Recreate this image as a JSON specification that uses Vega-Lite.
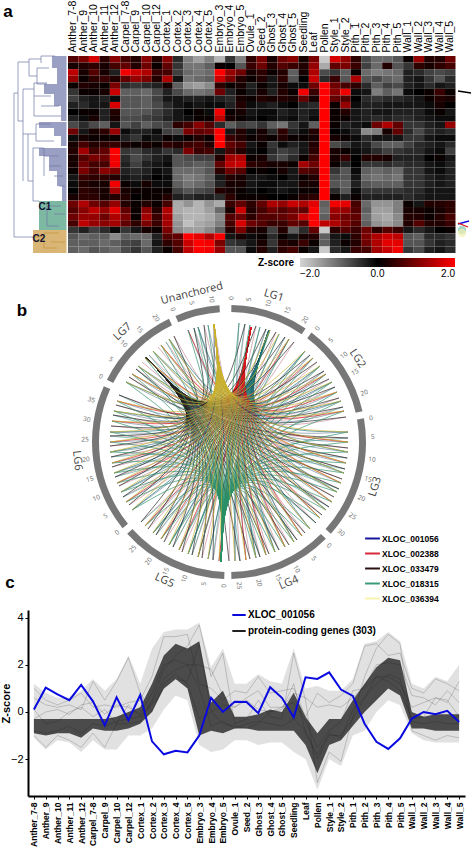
{"$schema":"https://vega.github.io/schema/vega-lite/v6.json","padding":0,"background":"white","config":{"view":{"stroke":null},"font":"Liberation Sans"},"resolve":{"scale":{"color":"independent","stroke":"independent"},"legend":{"color":"independent"}},"datasets":{"env":[{"c":"a","lo":-1.1,"hi":1.2,"cl":-0.9,"ch":-0.3},{"c":"b","lo":-1.6,"hi":0.8,"cl":-1,"ch":-0.3},{"c":"c","lo":-1.2,"hi":0.6,"cl":-0.9,"ch":-0.3},{"c":"d","lo":-1.3,"hi":0.6,"cl":-0.9,"ch":-0.3},{"c":"e","lo":-1.7,"hi":0.9,"cl":-1.1,"ch":-0.3},{"c":"f","lo":-1.2,"hi":1.4,"cl":-0.7,"ch":-0.3},{"c":"g","lo":-1.6,"hi":0.9,"cl":-0.8,"ch":-0.3},{"c":"h","lo":-1.6,"hi":1.4,"cl":-0.8,"ch":-0.2},{"c":"i","lo":-1,"hi":2.4,"cl":-0.7,"ch":0},{"c":"j","lo":-1,"hi":1.2,"cl":-0.5,"ch":0.2},{"c":"k","lo":-0.7,"hi":2.7,"cl":0,"ch":1.2},{"c":"l","lo":0.1,"hi":3.4,"cl":1,"ch":2.4},{"c":"m","lo":0.7,"hi":3.5,"cl":1.4,"ch":2.9},{"c":"n","lo":0.5,"hi":3.5,"cl":1,"ch":2.7},{"c":"o","lo":-1.4,"hi":3.8,"cl":-1,"ch":3},{"c":"p","lo":-1.7,"hi":1.9,"cl":-0.8,"ch":0.4},{"c":"q","lo":-1.6,"hi":2.7,"cl":-0.9,"ch":0.9},{"c":"s","lo":-1.2,"hi":1.2,"cl":-0.7,"ch":-0.2},{"c":"t","lo":-1.2,"hi":1.2,"cl":-0.7,"ch":-0.2},{"c":"u","lo":-1.4,"hi":1.6,"cl":-0.8,"ch":-0.1},{"c":"v","lo":-1.3,"hi":1.3,"cl":-0.8,"ch":0.1},{"c":"w","lo":-1.3,"hi":1.2,"cl":-0.8,"ch":0},{"c":"x","lo":-1.7,"hi":2.7,"cl":-0.8,"ch":0.8},{"c":"y","lo":-2,"hi":1,"cl":-1.4,"ch":-0.2},{"c":"z","lo":-3.3,"hi":1.1,"cl":-2.6,"ch":-0.9},{"c":"A","lo":-2,"hi":0.9,"cl":-1.4,"ch":-0.3},{"c":"B","lo":-2.3,"hi":0.9,"cl":-1.2,"ch":-0.3},{"c":"C","lo":-1,"hi":1.4,"cl":-0.6,"ch":0.5},{"c":"D","lo":-0.8,"hi":2.9,"cl":0,"ch":1.2},{"c":"E","lo":0,"hi":3,"cl":0.5,"ch":1.9},{"c":"F","lo":0.5,"hi":3.4,"cl":1,"ch":2.3},{"c":"G","lo":0.3,"hi":3,"cl":0.7,"ch":2.2},{"c":"H","lo":-0.9,"hi":1.2,"cl":-0.7,"ch":0},{"c":"I","lo":-1.2,"hi":1,"cl":-0.7,"ch":-0.2},{"c":"J","lo":-1.3,"hi":1.5,"cl":-0.8,"ch":-0.1},{"c":"K","lo":-1.3,"hi":1.3,"cl":-0.8,"ch":-0.1},{"c":"L","lo":-1.3,"hi":2,"cl":-0.8,"ch":-0.1}]},"concat":[{"resolve":{"scale":{"color":"independent"},"legend":{"color":"independent"}},"hconcat":[{"width":38.5,"height":197,"encoding":{"x":{"field":"x","type":"quantitative","scale":{"domain":[29,67.5]},"axis":null},"y":{"field":"y","type":"quantitative","scale":{"domain":[197,0]},"axis":null}},"layer":[{"data":{"values":[{"k":"main","x":53,"x2":67.5,"y":0,"y2":12},{"k":"main","x":58,"x2":67.5,"y":12,"y2":28},{"k":"main","x":45,"x2":67.5,"y":28,"y2":38},{"k":"main","x":55,"x2":67.5,"y":38,"y2":50},{"k":"main","x":62,"x2":67.5,"y":50,"y2":65},{"k":"main","x":40,"x2":67.5,"y":66,"y2":72},{"k":"main","x":55,"x2":67.5,"y":72,"y2":80},{"k":"main","x":62,"x2":67.5,"y":80,"y2":90},{"k":"main","x":40,"x2":67.5,"y":92,"y2":100},{"k":"main","x":50,"x2":67.5,"y":100,"y2":115},{"k":"main","x":58,"x2":67.5,"y":115,"y2":130},{"k":"main","x":63,"x2":67.5,"y":130,"y2":145},{"k":"C1","x":40,"x2":67.5,"y":145,"y2":174},{"k":"C2","x":34,"x2":67.5,"y":174,"y2":197}]},"mark":"rect","encoding":{"x2":{"field":"x2"},"y2":{"field":"y2"},"color":{"field":"k","type":"nominal","legend":null,"scale":{"domain":["main","C1","C2"],"range":["#9a9fc4","#7db9a2","#d9b676"]}}}},{"data":{"values":[{"x":15,"y":37,"x2":15,"y2":181},{"x":15,"y":181,"x2":34,"y2":181},{"x":15,"y":37,"x2":19,"y2":37},{"x":19,"y":6,"x2":19,"y2":65},{"x":19,"y":6,"x2":30,"y2":6},{"x":19,"y":65,"x2":24,"y2":65},{"x":30,"y":3,"x2":30,"y2":20},{"x":30,"y":3,"x2":42,"y2":3},{"x":30,"y":20,"x2":38,"y2":20},{"x":38,"y":12,"x2":38,"y2":28},{"x":38,"y":12,"x2":50,"y2":12},{"x":38,"y":28,"x2":48,"y2":28},{"x":42,"y":0,"x2":42,"y2":7},{"x":42,"y":0,"x2":56,"y2":0},{"x":24,"y":33,"x2":24,"y2":125},{"x":24,"y":33,"x2":35,"y2":33},{"x":35,"y":27,"x2":35,"y2":60},{"x":35,"y":27,"x2":48,"y2":27},{"x":35,"y":40,"x2":52,"y2":40},{"x":42,"y":50,"x2":60,"y2":50},{"x":35,"y":60,"x2":62,"y2":60},{"x":24,"y":78,"x2":29,"y2":78},{"x":29,"y":78,"x2":29,"y2":125},{"x":29,"y":78,"x2":37,"y2":78},{"x":37,"y":68,"x2":37,"y2":85},{"x":37,"y":68,"x2":52,"y2":68},{"x":37,"y":85,"x2":55,"y2":85},{"x":29,"y":125,"x2":34,"y2":125},{"x":34,"y":92,"x2":34,"y2":145},{"x":34,"y":92,"x2":45,"y2":92},{"x":45,"y":92,"x2":45,"y2":120},{"x":34,"y":145,"x2":40,"y2":145},{"x":45,"y":100,"x2":60,"y2":100},{"x":50,"y":110,"x2":62,"y2":110},{"x":55,"y":120,"x2":64,"y2":120},{"x":60,"y":130,"x2":66,"y2":130},{"x":48,"y":150,"x2":48,"y2":170},{"x":48,"y":150,"x2":62,"y2":150},{"x":48,"y":170,"x2":60,"y2":170},{"x":55,"y":158,"x2":66,"y2":158}]},"mark":{"type":"rule","color":"#6f75a3","strokeWidth":0.7},"encoding":{"x2":{"field":"x2"},"y2":{"field":"y2"}}},{"data":{"values":[{"x":34,"y":181,"x2":45,"y2":181},{"x":45,"y":177,"x2":45,"y2":192},{"x":45,"y":177,"x2":60,"y2":177},{"x":45,"y":192,"x2":58,"y2":192},{"x":52,"y":186,"x2":66,"y2":186}]},"mark":{"type":"rule","color":"#c4923c","strokeWidth":0.7},"encoding":{"x2":{"field":"x2"},"y2":{"field":"y2"}}},{"data":{"values":[{"t":"C1","x":46,"y":151},{"t":"C2","x":40,"y":183}]},"mark":{"type":"text","fontWeight":"bold","fontSize":10,"color":"#111133"},"encoding":{"text":{"field":"t"}}},{"data":{"values":[{"t":"a","x":9,"y":-44}]},"mark":{"type":"text","fontWeight":"bold","fontSize":17,"color":"black"},"encoding":{"text":{"field":"t"}}}]},{"width":387.5,"height":197,"data":{"values":[{"r":0,"a":0.7,"b":1,"c":1.7,"d":0.4,"e":1.1,"f":0.6,"g":0.3,"h":1.1,"i":0.3,"j":1.1,"k":-0.4,"l":-1.2,"m":-1.5,"n":-1.2,"o":-1.7,"p":-0.5,"q":-1.2,"s":0.4,"t":1,"u":0.2,"v":0.9,"w":1.1,"x":0.2,"y":1,"z":-1.9,"A":1.7,"B":1.2,"C":0.4,"D":-0.7,"E":-1,"F":-1,"G":-0.8,"H":0.1,"I":1.2,"J":0.3,"K":0.3,"L":0.9},{"r":1,"a":0.2,"b":0.3,"c":0.4,"d":0.2,"e":0.6,"f":0.8,"g":0.3,"h":0.9,"i":0.1,"j":0.8,"k":-0.5,"l":-1.1,"m":-1.1,"n":-0.9,"o":0.1,"p":0,"q":-0.8,"s":0.5,"t":0.9,"u":0.3,"v":0.7,"w":0.5,"x":0.3,"y":1.2,"z":-1.6,"A":0.8,"B":1,"C":0.5,"D":-0.6,"E":-1,"F":0.3,"G":-0.8,"H":-0.5,"I":0.4,"J":0.2,"K":0.4,"L":0.6},{"r":2,"a":1.5,"b":0.2,"c":0.7,"d":0.2,"e":-0.3,"f":1.9,"g":1.6,"h":1.4,"i":0.5,"j":0.6,"k":-0.6,"l":-1,"m":-1.1,"n":-1,"o":2,"p":1.2,"q":0.9,"s":0.2,"t":0.4,"u":0.1,"v":0.3,"w":-0.9,"x":0.2,"y":1.4,"z":-0.7,"A":-0.5,"B":-0.9,"C":0.1,"D":-1,"E":-1.2,"F":-1.1,"G":-1,"H":-0.3,"I":-0.4,"J":-0.6,"K":-0.7,"L":-0.6},{"r":3,"a":1.2,"b":0.1,"c":0.4,"d":0.5,"e":0.3,"f":0.8,"g":1.2,"h":1,"i":0.3,"j":1.4,"k":-0.2,"l":-1.1,"m":-1,"n":-0.9,"o":1.6,"p":1,"q":0.3,"s":0.1,"t":0.3,"u":-0.2,"v":0.4,"w":-0.8,"x":0,"y":1.6,"z":-0.4,"A":0.5,"B":-0.8,"C":1.4,"D":-0.8,"E":-0.7,"F":-0.9,"G":-1,"H":-0.3,"I":-0.2,"J":-0.5,"K":-0.8,"L":-0.4},{"r":4,"a":0.1,"b":0.3,"c":0.2,"d":0.1,"e":1,"f":-0.4,"g":-0.5,"h":-0.4,"i":-0.3,"j":0.2,"k":-0.9,"l":-1.4,"m":-1.5,"n":-1.3,"o":0.4,"p":0.1,"q":0.2,"s":-0.3,"t":0.1,"u":-0.2,"v":0.2,"w":-0.1,"x":-0.1,"y":0.9,"z":2,"A":0.9,"B":0.6,"C":0.4,"D":-0.4,"E":-0.9,"F":-0.6,"G":-0.7,"H":-0.3,"I":-0.2,"J":-0.4,"K":-0.2,"L":-0.3},{"r":5,"a":-0.5,"b":0.1,"c":0.1,"d":0.2,"e":1.6,"f":-0.9,"g":-0.9,"h":-1,"i":-0.7,"j":-0.3,"k":-0.7,"l":-1,"m":-1.1,"n":-1,"o":0.9,"p":-0.3,"q":0.1,"s":-0.2,"t":0.2,"u":-0.3,"v":0.3,"w":0.1,"x":1.9,"y":0.5,"z":2,"A":1.1,"B":1.9,"C":-0.1,"D":-0.2,"E":-1.2,"F":-0.9,"G":-1.1,"H":-0.1,"I":0,"J":0.1,"K":0.5,"L":0.1},{"r":6,"a":-0.6,"b":-0.3,"c":-0.2,"d":-0.3,"e":-0.1,"f":-0.8,"g":-0.8,"h":-0.9,"i":-0.6,"j":-0.2,"k":-0.2,"l":-0.3,"m":-0.3,"n":-0.2,"o":-0.3,"p":-0.4,"q":0.2,"s":0.1,"t":0.3,"u":0.2,"v":0.3,"w":0.2,"x":0.8,"y":0.2,"z":2,"A":0.8,"B":0.7,"C":0,"D":-0.4,"E":-0.5,"F":-0.4,"G":-0.4,"H":-0.3,"I":-0.2,"J":0.1,"K":0.3,"L":0.2},{"r":7,"a":-0.3,"b":-0.4,"c":-0.2,"d":-0.2,"e":1.7,"f":-0.8,"g":-0.8,"h":-0.9,"i":-0.7,"j":-0.4,"k":-0.2,"l":-0.1,"m":-0.2,"n":-0.1,"o":-0.1,"p":-0.3,"q":0.3,"s":-0.1,"t":-0.2,"u":-0.3,"v":-0.1,"w":0,"x":-0.3,"y":-0.4,"z":2,"A":0.1,"B":1.2,"C":-0.1,"D":-0.3,"E":-0.3,"F":-0.2,"G":-0.2,"H":-0.2,"I":-0.2,"J":-0.1,"K":0.2,"L":0},{"r":8,"a":0,"b":0.1,"c":0.1,"d":-0.3,"e":0.3,"f":-0.8,"g":-0.8,"h":-0.8,"i":-0.6,"j":-0.4,"k":-0.2,"l":0,"m":0.1,"n":-0.1,"o":1.9,"p":0.1,"q":0.2,"s":-0.2,"t":-0.1,"u":-0.1,"v":-0.3,"w":-0.2,"x":-0.3,"y":-0.2,"z":2,"A":0.1,"B":0.3,"C":-0.2,"D":-0.3,"E":-0.2,"F":-0.2,"G":-0.3,"H":-0.3,"I":-0.3,"J":-0.1,"K":0.1,"L":-0.2},{"r":9,"a":-0.3,"b":-0.1,"c":0.2,"d":-0.3,"e":0.2,"f":-0.7,"g":-0.7,"h":-0.6,"i":-0.5,"j":-0.3,"k":-0.2,"l":-0.1,"m":0.1,"n":0.1,"o":1.5,"p":0.2,"q":0.1,"s":-0.1,"t":0,"u":-0.1,"v":-0.2,"w":-0.1,"x":-0.3,"y":-0.1,"z":2,"A":0.1,"B":0.1,"C":-0.2,"D":-0.3,"E":-0.4,"F":-0.3,"G":-0.4,"H":-0.4,"I":-0.3,"J":-0.2,"K":-0.1,"L":-0.1},{"r":10,"a":-0.7,"b":-0.4,"c":-0.7,"d":-0.9,"e":-0.2,"f":-0.8,"g":-0.6,"h":-0.9,"i":-0.7,"j":-0.6,"k":0.4,"l":0.6,"m":1.1,"n":0.7,"o":-0.4,"p":-0.9,"q":-0.6,"s":-0.7,"t":-0.5,"u":-0.9,"v":-1.1,"w":-0.5,"x":-0.2,"y":-0.9,"z":2,"A":0.1,"B":-0.3,"C":-0.2,"D":-0.1,"E":0.9,"F":1.4,"G":0.8,"H":-0.5,"I":-0.5,"J":-0.3,"K":-0.2,"L":1.2},{"r":11,"a":0.9,"b":-0.2,"c":0.2,"d":0.4,"e":1.2,"f":-0.1,"g":-0.3,"h":-0.3,"i":-0.1,"j":-0.6,"k":-0.7,"l":1,"m":0.8,"n":0.9,"o":2,"p":-0.2,"q":0.3,"s":-0.1,"t":0.2,"u":-0.4,"v":0.4,"w":-0.3,"x":-0.1,"y":0.3,"z":2,"A":0,"B":-0.1,"C":-0.3,"D":-1.3,"E":-1.2,"F":0.2,"G":0.8,"H":-0.4,"I":-0.7,"J":-0.4,"K":-0.3,"L":-0.4},{"r":12,"a":-0.1,"b":0.2,"c":0.1,"d":0.1,"e":0.1,"f":-0.3,"g":-0.5,"h":-0.1,"i":-0.2,"j":0.1,"k":-0.1,"l":0.1,"m":0.3,"n":0.1,"o":2,"p":0.5,"q":0.3,"s":0.1,"t":0.2,"u":0.1,"v":0.3,"w":0.1,"x":0.1,"y":0.2,"z":2,"A":0.2,"B":0.1,"C":-0.1,"D":-0.4,"E":-0.2,"F":-0.2,"G":-0.2,"H":-0.5,"I":-0.5,"J":-0.2,"K":-0.1,"L":-0.1},{"r":13,"a":0.2,"b":0.6,"c":0.3,"d":0.4,"e":0.5,"f":0.2,"g":0.1,"h":0.2,"i":0.1,"j":0.4,"k":0.3,"l":0.5,"m":0.6,"n":0.3,"o":2,"p":0.8,"q":0.6,"s":-0.2,"t":0.1,"u":-0.5,"v":-0.1,"w":-0.3,"x":-0.2,"y":0.3,"z":2,"A":-0.7,"B":-0.5,"C":-0.2,"D":-0.3,"E":-0.7,"F":-0.9,"G":-0.9,"H":-0.6,"I":-0.4,"J":-0.3,"K":-0.2,"L":-0.4},{"r":14,"a":0.3,"b":1.3,"c":0.6,"d":0.8,"e":2,"f":-0.5,"g":-0.6,"h":-0.4,"i":-0.3,"j":-0.5,"k":-0.4,"l":1,"m":0.5,"n":0.6,"o":-0.2,"p":0.6,"q":0.3,"s":-0.1,"t":0,"u":-0.4,"v":-0.6,"w":-0.5,"x":-0.2,"y":0.4,"z":2,"A":0.2,"B":0.1,"C":-0.1,"D":-0.2,"E":-0.4,"F":-0.6,"G":-0.5,"H":-0.4,"I":-0.4,"J":-0.2,"K":-0.1,"L":-0.6},{"r":15,"a":0.2,"b":0.7,"c":1,"d":0.9,"e":1.9,"f":-0.4,"g":-0.7,"h":-0.5,"i":-0.3,"j":-0.2,"k":-0.8,"l":-0.7,"m":-0.6,"n":-0.6,"o":0.3,"p":1.3,"q":1.4,"s":0.1,"t":0.2,"u":-0.5,"v":-0.7,"w":-0.4,"x":0.1,"y":0.6,"z":2,"A":0.2,"B":0.5,"C":0,"D":0.3,"E":0.3,"F":0.2,"G":-0.3,"H":-0.3,"I":-0.3,"J":0,"K":0.1,"L":-0.2},{"r":16,"a":0.2,"b":0.9,"c":0.6,"d":0.6,"e":1.9,"f":-0.3,"g":-0.6,"h":-0.3,"i":-0.2,"j":-0.1,"k":-0.8,"l":-0.8,"m":-0.9,"n":-0.8,"o":0.8,"p":1.5,"q":1.6,"s":0.4,"t":0.3,"u":0.2,"v":0.2,"w":0.1,"x":1.3,"y":0.9,"z":2,"A":0.1,"B":-0.3,"C":0,"D":-0.5,"E":-0.5,"F":-0.4,"G":-0.5,"H":-0.4,"I":-0.4,"J":-0.2,"K":-0.1,"L":-0.3},{"r":17,"a":0.1,"b":1,"c":0.6,"d":1.1,"e":1,"f":-0.3,"g":-0.4,"h":-0.3,"i":-0.1,"j":-0.2,"k":-1,"l":-1,"m":-1,"n":-0.8,"o":0.4,"p":0.9,"q":0.7,"s":0,"t":0.1,"u":0,"v":0.2,"w":-0.2,"x":0.7,"y":0.6,"z":2,"A":-0.5,"B":-0.8,"C":-0.1,"D":-0.9,"E":-1,"F":-0.9,"G":-1,"H":-0.5,"I":-0.5,"J":-0.2,"K":-0.1,"L":-0.3},{"r":18,"a":-0.2,"b":0.5,"c":0.4,"d":0.4,"e":0.3,"f":-0.2,"g":-0.3,"h":-0.2,"i":0,"j":-0.1,"k":-1,"l":-1.2,"m":-1.1,"n":-0.9,"o":-0.2,"p":0.3,"q":0.2,"s":-0.2,"t":-0.2,"u":-0.1,"v":0,"w":-0.2,"x":0.1,"y":0.3,"z":2,"A":-0.7,"B":-0.8,"C":-0.2,"D":-1,"E":-1.1,"F":-1,"G":-1.1,"H":-0.5,"I":-0.5,"J":-0.3,"K":-0.2,"L":-0.3},{"r":19,"a":-0.1,"b":0.3,"c":0.2,"d":0.2,"e":1.9,"f":0.1,"g":-0.1,"h":0.2,"i":-0.1,"j":-0.1,"k":-0.9,"l":-1.1,"m":-1,"n":-0.8,"o":-0.3,"p":0.2,"q":0.2,"s":-0.2,"t":-0.1,"u":-0.1,"v":-0.2,"w":-0.2,"x":0.2,"y":0.2,"z":2,"A":-0.8,"B":-0.9,"C":-0.3,"D":-0.8,"E":-0.9,"F":-0.9,"G":-0.9,"H":-0.5,"I":-0.5,"J":-0.3,"K":-0.2,"L":-0.3},{"r":20,"a":0,"b":0.4,"c":0.3,"d":0.2,"e":1.3,"f":0.2,"g":0.1,"h":0.1,"i":0.1,"j":0.1,"k":-0.6,"l":-0.8,"m":-0.7,"n":-0.6,"o":0.3,"p":0.2,"q":0.1,"s":-0.1,"t":0,"u":-0.1,"v":-0.2,"w":-0.1,"x":0.1,"y":0.1,"z":2,"A":-0.4,"B":-0.8,"C":-0.1,"D":-0.5,"E":-0.5,"F":-0.5,"G":-0.5,"H":-0.4,"I":-0.4,"J":-0.2,"K":-0.2,"L":-0.2},{"r":21,"a":0.2,"b":0.4,"c":0.4,"d":0.2,"e":0.3,"f":0.3,"g":0,"h":0.1,"i":0.1,"j":0.3,"k":-0.3,"l":-0.4,"m":-0.3,"n":-0.3,"o":-0.4,"p":0.4,"q":0.1,"s":0.1,"t":0.1,"u":0,"v":0,"w":0.1,"x":0.3,"y":0.4,"z":2,"A":0.1,"B":-0.3,"C":0.1,"D":-0.3,"E":-0.3,"F":-0.3,"G":-0.3,"H":-0.4,"I":-0.3,"J":-0.2,"K":-0.2,"L":-0.2},{"r":22,"a":0.9,"b":1.4,"c":0.9,"d":0.7,"e":1.2,"f":0.3,"g":0.1,"h":0.3,"i":0.1,"j":0.6,"k":-1.6,"l":-1.4,"m":-1.7,"n":-1.4,"o":-1.6,"p":0.5,"q":0.8,"s":0.4,"t":0.8,"u":1.4,"v":1.2,"w":1.6,"x":1.4,"y":1.8,"z":-0.9,"A":1.9,"B":1.8,"C":0.6,"D":-1,"E":-1.4,"F":-1.4,"G":-1.2,"H":0.1,"I":-0.2,"J":0.3,"K":0.3,"L":0.4},{"r":23,"a":0.7,"b":1.1,"c":1.5,"d":1.2,"e":1.8,"f":0.8,"g":0.1,"h":1.1,"i":0.3,"j":1.4,"k":-1.6,"l":-1.7,"m":-1.7,"n":-1.5,"o":-1,"p":0.2,"q":1.6,"s":0.3,"t":0.6,"u":0.9,"v":0.7,"w":0.9,"x":0.8,"y":2,"z":-1,"A":1.3,"B":1.2,"C":0.7,"D":-0.9,"E":-1.5,"F":-1.5,"G":-1.2,"H":0.2,"I":0.2,"J":0.1,"K":0.2,"L":0.4},{"r":24,"a":0.9,"b":1.2,"c":1.2,"d":0.9,"e":1.4,"f":1,"g":0.1,"h":1.3,"i":0.5,"j":1.3,"k":-1.5,"l":-1.7,"m":-1.7,"n":-1.6,"o":-1.3,"p":0.7,"q":0.9,"s":0.4,"t":0.7,"u":0.7,"v":0.8,"w":1,"x":1.6,"y":2,"z":-0.9,"A":1.1,"B":0.9,"C":0.8,"D":-1,"E":-1.5,"F":-1.6,"G":-1.3,"H":0.3,"I":0.3,"J":0.1,"K":0.3,"L":0.6},{"r":25,"a":0.6,"b":1.5,"c":1.2,"d":1.1,"e":1.3,"f":0.8,"g":0.4,"h":1,"i":0.5,"j":1.3,"k":-1.4,"l":-1.8,"m":-1.6,"n":-1.5,"o":-1.2,"p":0.6,"q":1.7,"s":0.9,"t":0.7,"u":0.5,"v":0.5,"w":0.8,"x":0.7,"y":2,"z":1.5,"A":1.4,"B":1,"C":0.7,"D":-0.9,"E":-1.4,"F":-1.5,"G":-1.3,"H":0.3,"I":0.7,"J":0.3,"K":0.3,"L":0.5},{"r":26,"a":-0.5,"b":-0.3,"c":-0.6,"d":-0.4,"e":-0.1,"f":-0.5,"g":-0.2,"h":0.2,"i":0.1,"j":1,"k":-1.3,"l":-1.5,"m":-1.5,"n":-1.3,"o":-0.9,"p":0.3,"q":1,"s":0.3,"t":0.2,"u":-0.6,"v":0.3,"w":-0.9,"x":-0.4,"y":0.8,"z":-1.9,"A":0.4,"B":0.7,"C":0.5,"D":0.9,"E":0.4,"F":0.7,"G":0.5,"H":-0.2,"I":-0.4,"J":-0.2,"K":0,"L":0.1},{"r":27,"a":-0.8,"b":-1,"c":-0.9,"d":-0.9,"e":-1.3,"f":-0.9,"g":-1,"h":-1,"i":-0.3,"j":0.7,"k":0.8,"l":2,"m":1.8,"n":1.4,"o":1.9,"p":-0.2,"q":0.2,"s":-0.1,"t":0.1,"u":-0.4,"v":0.1,"w":-0.2,"x":0.2,"y":0.3,"z":-0.9,"A":-0.2,"B":-0.1,"C":0.4,"D":1,"E":1.4,"F":1.6,"G":1.5,"H":-0.8,"I":-0.9,"J":-0.4,"K":-0.4,"L":-0.5},{"r":28,"a":-0.9,"b":-0.9,"c":-0.9,"d":-1,"e":-0.9,"f":-0.7,"g":-0.6,"h":-1,"i":-0.2,"j":0.4,"k":0.7,"l":1.6,"m":2,"n":1.9,"o":1,"p":-0.5,"q":-0.4,"s":-0.2,"t":0.2,"u":-0.5,"v":0.3,"w":0.2,"x":0.5,"y":0.1,"z":-0.9,"A":-0.3,"B":0.1,"C":0.3,"D":0.9,"E":1.4,"F":1.8,"G":1.8,"H":-0.8,"I":-0.8,"J":-0.5,"K":-0.3,"L":-0.4},{"r":29,"a":-0.9,"b":-1,"c":-0.8,"d":-0.9,"e":-1,"f":-0.7,"g":-0.5,"h":-0.8,"i":-0.3,"j":0.1,"k":0.6,"l":1.5,"m":2,"n":1.9,"o":1.2,"p":-0.8,"q":-0.8,"s":-0.1,"t":0.3,"u":-0.3,"v":0.4,"w":0.6,"x":0.1,"y":-0.2,"z":-1.9,"A":-0.4,"B":-0.2,"C":0.5,"D":0.6,"E":1.3,"F":1.6,"G":1.9,"H":-0.5,"I":-0.7,"J":-0.3,"K":-0.2,"L":-0.4}]},"transform":[{"fold":["a","b","c","d","e","f","g","h","i","j","k","l","m","n","o","p","q","s","t","u","v","w","x","y","z","A","B","C","D","E","F","G","H","I","J","K","L"],"as":["c","z"]}],"mark":"rect","encoding":{"x":{"field":"c","type":"nominal","scale":{"domain":["a","b","c","d","e","f","g","h","i","j","k","l","m","n","o","p","q","s","t","u","v","w","x","y","z","A","B","C","D","E","F","G","H","I","J","K","L"],"paddingInner":0,"paddingOuter":0},"axis":{"orient":"top","title":null,"labelAngle":-90,"labelFontSize":10.5,"labelColor":"black","ticks":false,"domain":false,"labelPadding":4,"labelExpr":"['Anther_7-8','Anther_9','Anther_10','Anther_11','Anther_12','Carpel_7-8','Carpel_9','Carpel_10','Carpel_12','Cortex_1','Cortex_2','Cortex_3','Cortex_4','Cortex_5','Embryo_3','Embryo_4','Embryo_5','Ovule_1','Seed_2','Ghost_3','Ghost_4','Ghost_5','Seedling','Leaf','Pollen','Style_1','Style_2','Pith_1','Pith_2','Pith_3','Pith_4','Pith_5','Wall_1','Wall_2','Wall_3','Wall_4','Wall_5'][indexof('abcdefghijklmnopqstuvwxyzABCDEFGHIJKL',datum.value)]"}},"y":{"field":"r","type":"ordinal","axis":null,"scale":{"paddingInner":0,"paddingOuter":0}},"color":{"field":"z","type":"quantitative","scale":{"domain":[-2,0,0.5,2],"range":["#d4d4d4","#000000","#380000","#ff0000"],"clamp":true,"interpolate":"rgb"},"legend":{"orient":"none","legendX":190,"legendY":202,"direction":"horizontal","title":"Z-score","titleOrient":"left","titleFontSize":10,"titleFontWeight":"bold","titleColor":"black","gradientLength":155,"gradientThickness":9,"values":[-2,0,2],"format":".1f","labelFontSize":10,"labelColor":"black"}}}},{"width":17,"height":197,"encoding":{"x":{"field":"x","type":"quantitative","scale":{"domain":[0,17]},"axis":null},"y":{"field":"y","type":"quantitative","scale":{"domain":[197,0]},"axis":null}},"layer":[{"data":{"values":[{"k":"t","x":6,"y":174},{"k":"y","x":6,"y":177}]},"mark":{"type":"point","filled":true,"size":70,"opacity":0.7},"encoding":{"color":{"field":"k","type":"nominal","legend":null,"scale":{"domain":["t","y"],"range":["#7fc4b0","#f4efb0"]}}}},{"data":{"values":[{"k":"k","x":2,"y":35,"x2":15,"y2":37},{"k":"b","x":2,"y":168,"x2":13,"y2":165},{"k":"r","x":2,"y":167,"x2":12,"y2":171}]},"mark":{"type":"rule","strokeWidth":1.3},"encoding":{"x2":{"field":"x2"},"y2":{"field":"y2"},"color":{"field":"k","type":"nominal","legend":null,"scale":{"domain":["k","b","r"],"range":["#000000","#1010e0","#e01010"]}}}}],"resolve":{"scale":{"color":"independent"}}}],"spacing":0},{"width":402,"height":300,"layer":[{"data":{"values":[{"a":1,"b":34},{"a":37,"b":77},{"a":80,"b":132},{"a":135,"b":179},{"a":182,"b":228},{"a":231,"b":294},{"a":297,"b":334},{"a":337,"b":356}]},"mark":{"type":"arc","radius":137,"radius2":130,"color":"#777777"},"encoding":{"theta":{"field":"a","type":"quantitative","stack":null,"scale":{"domain":[0,360]}},"theta2":{"field":"b"}}},{"data":{"values":[{"t":"0","a":1},{"t":"5","a":8},{"t":"10","a":16},{"t":"15","a":24},{"t":"20","a":32},{"t":"0","a":38},{"t":"5","a":45},{"t":"10","a":53},{"t":"15","a":61},{"t":"20","a":70},{"t":"0","a":80.5},{"t":"5","a":88},{"t":"10","a":97},{"t":"15","a":105},{"t":"20","a":113},{"t":"25","a":121},{"t":"30","a":129},{"t":"0","a":136},{"t":"5","a":144},{"t":"10","a":152},{"t":"15","a":160},{"t":"20","a":168},{"t":"25","a":176},{"t":"0","a":182},{"t":"5","a":190},{"t":"10","a":198},{"t":"15","a":206},{"t":"20","a":214},{"t":"25","a":222},{"t":"0","a":231},{"t":"5","a":239},{"t":"10","a":247},{"t":"15","a":255},{"t":"20","a":263},{"t":"25","a":271},{"t":"30","a":279},{"t":"35","a":287},{"t":"0","a":297},{"t":"5","a":305},{"t":"10","a":313},{"t":"15","a":321.5},{"t":"20","a":329.5},{"t":"0","a":337},{"t":"5","a":345},{"t":"10","a":353}]},"transform":[{"calculate":"datum.a<180?datum.a-90:datum.a-270","as":"rot"}],"mark":{"type":"text","radius":144,"fontSize":6.5,"color":"#666666","font":"Open Sans"},"encoding":{"theta":{"field":"a","type":"quantitative","stack":null,"scale":{"domain":[0,360]}},"text":{"field":"t"},"angle":{"field":"rot","type":"quantitative","scale":null}}},{"data":{"values":[{"t":"LG1","a":17},{"t":"LG2","a":57},{"t":"LG3","a":107},{"t":"LG4","a":157},{"t":"LG5","a":205},{"t":"LG6","a":263},{"t":"LG7","a":316},{"t":"Unanchored","a":346}]},"transform":[{"calculate":"(datum.a<90||datum.a>270)?datum.a:datum.a-180","as":"rot"}],"mark":{"type":"text","radius":153,"fontSize":11,"color":"#444444","font":"Open Sans"},"encoding":{"theta":{"field":"a","type":"quantitative","stack":null,"scale":{"domain":[0,360]}},"text":{"field":"t"},"angle":{"field":"rot","type":"quantitative","scale":null}}},{"data":{"values":[{"g":"p","hx":22,"hy":115,"cx":3,"cy":5,"ex":[16,27,37,47,56,65,81,88,95,100,106,110,114,117,119,119,118,116,113,110,105,100,93,87,76,68,60,50,40,31,21,11,0,-16,-27,-37,-47,-56,-65,-73,-81,-88,-100,-106,-110,-114,-117,-118,-119,-119,-118,-116,-113,-110,-100,-93,-87,-80,-71,-63,-55,-35,-25,-15],"ey":[118,116,113,110,105,100,87,80,71,63,55,44,35,25,4,-6,-16,-27,-37,-47,-55,-65,-73,-81,-91,-98,-103,-108,-112,-115,-117,-119,-119,-118,-116,-113,-110,-105,-100,-93,-87,-80,-63,-55,-44,-35,-25,-15,-4,6,16,27,37,47,65,73,80,87,95,100,106,114,117,118]},{"g":"s","hx":40,"hy":112,"cx":4,"cy":5,"ex":[10,21,31,41,50,60,76,84,91,97,103,108,112,115,119,119,119,117,115,112,108,103,97,91,81,73,65,56,46,37,27,17,6,-10,-21,-31,-41,-50,-60,-68,-76,-84,-97,-103,-108,-112,-115,-117,-119,-119,-119,-117,-115,-112,-103,-97,-91,-84,-76,-68,-60,-41,-31,-21],"ey":[119,117,115,112,108,103,91,84,76,68,60,50,41,31,10,0,-10,-21,-31,-41,-50,-60,-68,-76,-87,-94,-100,-105,-110,-113,-116,-118,-119,-119,-117,-115,-112,-108,-103,-97,-91,-84,-68,-60,-50,-41,-31,-21,-10,0,10,21,31,41,60,68,76,84,91,97,103,112,115,117]},{"g":"t","hx":-8,"hy":-120,"cx":-2,"cy":-5,"ex":[16,37,56,81,95,106,114,119,119,116,110,100,87,68,50,31,11,-16,-37,-56,-73,-88,-106,-114,-118,-119,-116,-110,-93,-80,-63,-35,-15],"ey":[118,113,105,87,71,55,35,4,-16,-27,-47,-65,-81,-98,-108,-115,-119,-118,-113,-105,-93,-80,-55,-35,-15,6,27,47,73,87,100,114,118]},{"g":"b","hx":40,"hy":112,"cx":6,"cy":12,"ex":[76,91,103,112,119,119,115,108,97,81,65,46,27,6,-21,-41,-60,-76,-97,-108,-115,-119,-119,-115,-103,-91,-76,-60,-31],"ey":[91,76,60,41,10,-10,-31,-50,-68,-87,-100,-110,-116,-119,-117,-112,-103,-91,-68,-50,-31,-10,10,31,60,76,91,103,115]},{"g":"r","hx":22,"hy":115,"cx":4,"cy":12,"ex":[60,84,97,108,115,119,117,112,103,91,73,56,37,17,-10,-31,-50,-68,-84,-103,-112,-117,-119,-117,-112,-97,-84,-68,-41],"ey":[103,84,68,50,31,0,-21,-41,-60,-76,-94,-105,-113,-118,-119,-115,-108,-97,-84,-60,-41,-21,0,21,41,68,84,97,112]},{"g":"k","hx":-83,"hy":85,"cx":-14,"cy":10,"ex":[16,27,37,47,56,65,81,88,95,100,106,110,114,117,119,119,118,116,113,110,105,100,93,87,76,68,60,50,40,31,21,11,0,-16,-27,-37,-47,-56,-65,-73,-81,-88,-100,-106,-110,-114,-117,-118,-119,-119,-118,-116,-113,-110,-100,-93,-55,-35,-25,-15],"ey":[118,116,113,110,105,100,87,80,71,63,55,44,35,25,4,-6,-16,-27,-37,-47,-55,-65,-73,-81,-91,-98,-103,-108,-112,-115,-117,-119,-119,-118,-116,-113,-110,-105,-100,-93,-87,-80,-63,-55,-44,-35,-25,-15,-4,6,16,27,37,47,65,73,106,114,117,118]},{"g":"g","hx":-8,"hy":-120,"cx":-3,"cy":-14,"ex":[10,21,31,41,50,60,76,84,91,97,103,108,112,115,119,119,119,117,115,112,108,103,97,91,81,73,65,56,46,37,27,-31,-41,-50,-60,-68,-76,-84,-97,-103,-108,-112,-115,-117,-119,-119,-119,-117,-115,-112,-103,-97,-91,-84,-76,-68,-60,-41,-31,-21],"ey":[119,117,115,112,108,103,91,84,76,68,60,50,41,31,10,0,-10,-21,-31,-41,-50,-60,-68,-76,-87,-94,-100,-105,-110,-113,-116,-115,-112,-108,-103,-97,-91,-84,-68,-60,-50,-41,-31,-21,-10,0,10,21,31,41,60,68,76,84,91,97,103,112,115,117]},{"g":"y","hx":-15,"hy":118,"cx":-4,"cy":16,"ex":[41,50,60,76,84,91,97,103,108,112,115,119,119,119,117,115,112,108,103,97,91,81,73,65,56,46,37,27,17,6,-10,-21,-31,-41,-50,-60,-68,-76,-84,-97,-103,-108,-112,-115,-117,-119,-119,-119,-117,-115,-112,-103,-97,-91,-84,-76,-68,-60],"ey":[112,108,103,91,84,76,68,60,50,41,31,10,0,-10,-21,-31,-41,-50,-60,-68,-76,-87,-94,-100,-105,-110,-113,-116,-118,-119,-119,-117,-115,-112,-108,-103,-97,-91,-84,-68,-60,-50,-41,-31,-21,-10,0,10,21,31,41,60,68,76,84,91,97,103]}]},"transform":[{"flatten":["ex","ey"]},{"window":[{"op":"row_number","as":"i"}]},{"calculate":"[datum.hx,datum.cx,datum.ex]","as":"x"},{"calculate":"[datum.hy,datum.cy,datum.ey]","as":"y"},{"flatten":["x","y"]},{"window":[{"op":"row_number","as":"n"}],"groupby":["i"]}],"mark":{"type":"line","interpolate":"basis","strokeWidth":0.8,"opacity":0.85},"encoding":{"x":{"field":"x","type":"quantitative","scale":{"domain":[-201,201]},"axis":null},"y":{"field":"y","type":"quantitative","scale":{"domain":[-150,150]},"axis":null},"detail":{"field":"i","type":"nominal"},"order":{"field":"n","type":"quantitative"},"stroke":{"field":"g","type":"nominal","legend":null,"scale":{"domain":["p","s","t","b","r","k","g","y"],"range":["#c88a98","#7088a0","#58a8a0","#1f6f78","#d8181c","#222222","#2a9068","#c9b030"]}}}},{"data":{"values":[{"t":"b","x":-207,"y":131},{"t":"c","x":-219,"y":-141}]},"mark":{"type":"text","fontWeight":"bold","fontSize":17,"color":"black"},"encoding":{"x":{"field":"x","type":"quantitative","scale":{"domain":[-201,201]},"axis":null},"y":{"field":"y","type":"quantitative","scale":{"domain":[-150,150]},"axis":null},"text":{"field":"t"}}},{"data":{"values":[{"n":"XLOC_001056","x":0,"y":-164},{"n":"XLOC_002388","x":0,"y":-164},{"n":"XLOC_033479","x":0,"y":-164},{"n":"XLOC_018315","x":0,"y":-164},{"n":"XLOC_036394","x":0,"y":-164}]},"mark":{"type":"point","size":0,"opacity":0},"encoding":{"x":{"field":"x","type":"quantitative","scale":{"domain":[-201,201]},"axis":null},"y":{"field":"y","type":"quantitative","scale":{"domain":[-150,150]},"axis":null},"color":{"field":"n","type":"nominal","scale":{"domain":["XLOC_001056","XLOC_002388","XLOC_033479","XLOC_018315","XLOC_036394"],"range":["#16169a","#d8283c","#2a1010","#3a9a78","#f7f3b0"]},"legend":{"orient":"none","legendX":336,"legendY":238,"title":null,"symbolType":"stroke","symbolSize":220,"symbolStrokeWidth":2,"symbolOpacity":1,"labelFontSize":8.5,"labelFontWeight":"bold","labelColor":"black","rowPadding":2,"labelOffset":1}}}}]},{"width":437,"height":186,"encoding":{"x":{"field":"c","type":"ordinal","scale":{"domain":["a","b","c","d","e","f","g","h","i","j","k","l","m","n","o","p","q","s","t","u","v","w","x","y","z","A","B","C","D","E","F","G","H","I","J","K","L"],"padding":0.5},"axis":{"title":null,"labelAngle":-90,"labelFontSize":8.5,"labelFontWeight":"bold","labelColor":"black","tickSize":3,"tickColor":"black","domainColor":"black","domainWidth":2,"labelPadding":3,"labelExpr":"['Anther_7-8','Anther_9','Anther_10','Anther_11','Anther_12','Carpel_7-8','Carpel_9','Carpel_10','Carpel_12','Cortex_1','Cortex_2','Cortex_3','Cortex_4','Cortex_5','Embryo_3','Embryo_4','Embryo_5','Ovule_1','Seed_2','Ghost_3','Ghost_4','Ghost_5','Seedling','Leaf','Pollen','Style_1','Style_2','Pith_1','Pith_2','Pith_3','Pith_4','Pith_5','Wall_1','Wall_2','Wall_3','Wall_4','Wall_5'][indexof('abcdefghijklmnopqstuvwxyzABCDEFGHIJKL',datum.value)]"}},"y":{"field":"z","type":"quantitative","scale":{"domain":[-3.57,4.33],"nice":false},"axis":{"title":"Z-score","titleFontSize":11,"titleFontWeight":"bold","titleColor":"black","titlePadding":-1,"values":[-2,0,2,4],"grid":false,"labelFontSize":11,"labelColor":"black","tickSize":3,"tickColor":"black","domainColor":"black","domainWidth":2}}},"layer":[{"data":{"name":"env"},"mark":{"type":"area","color":"#aaaaaa","opacity":0.35},"encoding":{"y":{"field":"lo","type":"quantitative"},"y2":{"field":"hi"}}},{"data":{"values":[{"id":1,"a":0.6,"b":0.3,"c":0.2,"d":0.3,"e":0.1,"f":1.3,"g":0.5,"h":1.3,"i":2.3,"j":0.8,"k":0,"l":1.2,"m":1.6,"n":1.2,"o":-0.3,"p":0,"q":0.3,"s":0.2,"t":0.5,"u":0.1,"v":0,"w":0.2,"x":0.4,"y":-0.4,"z":-1.5,"A":-0.8,"B":-0.4,"C":0.9,"D":1,"E":1.5,"F":1.5,"G":1.2,"H":0.2,"I":0.4,"J":0.6,"K":0.4,"L":1.3},{"id":2,"a":-1,"b":-1.5,"c":-1,"d":-1.2,"e":-1.5,"f":-0.9,"g":-1.5,"h":-0.5,"i":-0.5,"j":-0.4,"k":0.5,"l":1.8,"m":2.4,"n":2.8,"o":3.7,"p":1.5,"q":2.5,"s":-0.5,"t":-0.3,"u":0.5,"v":-0.2,"w":-0.3,"x":2.5,"y":0.5,"z":-3,"A":-1.7,"B":-2.1,"C":-0.2,"D":1.5,"E":2.7,"F":3.3,"G":2.9,"H":-0.8,"I":-1,"J":-1.2,"K":-1,"L":-1.1},{"id":3,"a":1,"b":0.5,"c":0.3,"d":0.5,"e":0.8,"f":0.2,"g":0.3,"h":0.2,"i":0.4,"j":0.5,"k":1.5,"l":3.2,"m":3.2,"n":3.3,"o":1.2,"p":1,"q":0.5,"s":0.9,"t":0.8,"u":1.5,"v":0.8,"w":0.9,"x":1,"y":-0.2,"z":0.8,"A":0.4,"B":0.7,"C":1.2,"D":2.8,"E":2.9,"F":2.4,"G":2.5,"H":1,"I":0.8,"J":1.4,"K":1.2,"L":0.9},{"id":4,"a":-0.3,"b":0,"c":0.1,"d":-0.1,"e":0.3,"f":0.4,"g":-0.1,"h":0.3,"i":0.2,"j":-0.1,"k":0.8,"l":2,"m":2.2,"n":2,"o":2,"p":1.8,"q":0.7,"s":0.2,"t":0.6,"u":0.9,"v":0.2,"w":0.2,"x":0.8,"y":0.6,"z":0.2,"A":0.3,"B":0.2,"C":0.6,"D":1.1,"E":2,"F":2.1,"G":2,"H":0.7,"I":0.6,"J":0.3,"K":0.9,"L":0.4},{"id":5,"a":-0.8,"b":-0.9,"c":-0.8,"d":-0.6,"e":-0.9,"f":-0.5,"g":-0.6,"h":-0.4,"i":-0.3,"j":-0.2,"k":0.4,"l":1.4,"m":1.8,"n":2,"o":1,"p":-0.6,"q":-0.4,"s":-0.7,"t":-0.5,"u":-0.4,"v":-0.5,"w":-0.6,"x":-0.3,"y":-0.8,"z":-2,"A":-1,"B":-1,"C":-0.3,"D":0.6,"E":1.2,"F":1.6,"G":1.4,"H":-0.4,"I":-0.5,"J":-0.4,"K":-0.5,"L":-0.5},{"id":6,"a":0.1,"b":-0.5,"c":-0.4,"d":0,"e":0.2,"f":-0.2,"g":0.1,"h":-0.5,"i":0.3,"j":-0.2,"k":0.3,"l":1,"m":1.4,"n":1.3,"o":2.9,"p":0,"q":-0.5,"s":-0.6,"t":-0.7,"u":-0.5,"v":0,"w":0.1,"x":1.2,"y":-0.9,"z":-1.8,"A":-0.9,"B":-1.1,"C":0.1,"D":0.6,"E":1.5,"F":1.3,"G":0.9,"H":-0.3,"I":-0.2,"J":0.6,"K":0.5,"L":-0.2}]},"transform":[{"fold":["a","b","c","d","e","f","g","h","i","j","k","l","m","n","o","p","q","s","t","u","v","w","x","y","z","A","B","C","D","E","F","G","H","I","J","K","L"],"as":["c","z"]}],"mark":{"type":"line","color":"#444444","strokeWidth":0.5,"opacity":0.5},"encoding":{"detail":{"field":"id","type":"nominal"}}},{"data":{"name":"env"},"mark":{"type":"area","color":"#111111","opacity":0.72},"encoding":{"y":{"field":"cl","type":"quantitative"},"y2":{"field":"ch"}}},{"data":{"values":[{"c":"a","z":0.1},{"c":"b","z":1.03},{"c":"c","z":0.75},{"c":"d","z":0.5},{"c":"e","z":1.15},{"c":"f","z":0.45},{"c":"g","z":-0.57},{"c":"h","z":0.62},{"c":"i","z":-0.35},{"c":"j","z":0.72},{"c":"k","z":-1.25},{"c":"l","z":-1.8},{"c":"m","z":-1.65},{"c":"n","z":-1.72},{"c":"o","z":-1},{"c":"p","z":0.6},{"c":"q","z":0},{"c":"s","z":0.43},{"c":"t","z":0.42},{"c":"u","z":-0.05},{"c":"v","z":1.05},{"c":"w","z":0.6},{"c":"x","z":-0.23},{"c":"y","z":1.47},{"c":"z","z":1.4},{"c":"A","z":1.68},{"c":"B","z":0.95},{"c":"C","z":0.68},{"c":"D","z":-0.5},{"c":"E","z":-1.27},{"c":"F","z":-1.57},{"c":"G","z":-1.12},{"c":"H","z":-0.28},{"c":"I","z":0},{"c":"J","z":-0.1},{"c":"K","z":0.05},{"c":"L","z":-0.43}]},"transform":[{"calculate":"'XLOC_001056'","as":"s"}],"mark":{"type":"line","strokeWidth":2},"encoding":{"color":{"field":"s","type":"nominal","scale":{"domain":["XLOC_001056","protein-coding genes (303)"],"range":["#0a0ae0","#222222"]},"legend":{"orient":"none","legendX":203,"legendY":-3,"title":null,"symbolType":"stroke","symbolSize":180,"symbolStrokeWidth":2,"labelFontSize":10,"labelFontWeight":"bold","labelColor":"black","labelLimit":300,"rowPadding":3,"labelOffset":1}}}}]}],"columns":1,"align":"none","spacing":1}
